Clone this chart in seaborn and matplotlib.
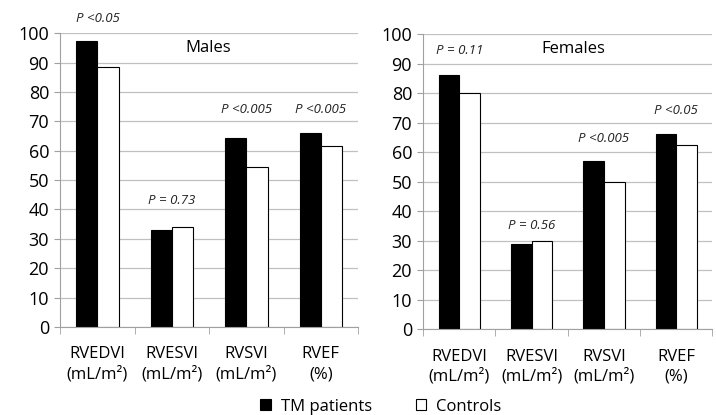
import pandas as pd
import matplotlib.pyplot as plt
import seaborn as sns

# data
params = ["RVEDVI\n(mL/m²)", "RVESVI\n(mL/m²)", "RVSVI\n(mL/m²)", "RVEF\n(%)"]
groups = ["TM patients", "Controls"]
males_tm = [97.5, 33, 64.5, 66]
males_ctrl = [88.5, 34, 54.5, 61.5]
females_tm = [86, 29, 57, 66]
females_ctrl = [80, 30, 50, 62.5]
males_p = ["P <0.05", "P = 0.73", "P <0.005", "P <0.005"]
males_p_y = [105, 43, 74, 74]
females_p = ["P = 0.11", "P = 0.56", "P <0.005", "P <0.05"]
females_p_y = [94.5, 35, 64.5, 74]

font = "Open Sans"
plt.rcParams["font.family"] = font


def long_df(tm, ctrl):
    rows = []
    for i, p in enumerate(params):
        rows.append({"param": p, "group": groups[0], "value": tm[i]})
        rows.append({"param": p, "group": groups[1], "value": ctrl[i]})
    return pd.DataFrame(rows)


fig = plt.figure(figsize=(7.16, 4.15), dpi=100)
ax1 = fig.add_axes([0.084, 0.212, 0.416, 0.708])
ax2 = fig.add_axes([0.591, 0.207, 0.404, 0.711])

panels = [
    (ax1, long_df(males_tm, males_ctrl), "Males", 1.49, males_p, males_p_y),
    (ax2, long_df(females_tm, females_ctrl), "Females", 1.58, females_p, females_p_y),
]

for ax, df, title, tx, ptxt, py in panels:
    sns.barplot(data=df, x="param", y="value", hue="group", ax=ax,
                palette=["black", "white"], edgecolor="black", linewidth=0.8,
                width=0.57, gap=0, legend=(ax is ax1), errorbar=None)
    ax.set_ylim(0, 100)
    ax.set_xlim(-0.5, 3.5)
    ax.set_yticks(range(0, 101, 10))
    ax.yaxis.grid(True, color="#c0c0c0", linewidth=0.9)
    ax.set_axisbelow(True)
    ax.set_xlabel("")
    ax.set_ylabel("")
    for s in ["top", "right"]:
        ax.spines[s].set_visible(False)
    for s in ["left", "bottom"]:
        ax.spines[s].set_color("#a0a0a0")
    ax.tick_params(axis="y", labelsize=13, length=4, color="#a0a0a0", pad=4)
    ax.tick_params(axis="x", which="major", labelsize=12, length=0, pad=14)
    ax.set_xticks([-0.5, 0.5, 1.5, 2.5, 3.5], minor=True)
    ax.tick_params(axis="x", which="minor", length=5, color="#a0a0a0", direction="out")
    for lbl in ax.get_xticklabels():
        lbl.set_linespacing(1.3)
    ax.text(tx, 95, title, ha="center", va="center", fontsize=12)
    for i, t in enumerate(ptxt):
        ax.text(i, py[i], t, ha="center", va="center", fontsize=9.5,
                style="italic", color="#222222", clip_on=False)

handles, labels = ax1.get_legend_handles_labels()
ax1.get_legend().remove()
fig.legend(handles, labels, loc="lower center", ncol=2, frameon=False,
           fontsize=12, handlelength=0.65, handleheight=0.65,
           handletextpad=0.6, columnspacing=2.6,
           bbox_to_anchor=(0.532, -0.035))

fig.savefig("out.png", dpi=100)
